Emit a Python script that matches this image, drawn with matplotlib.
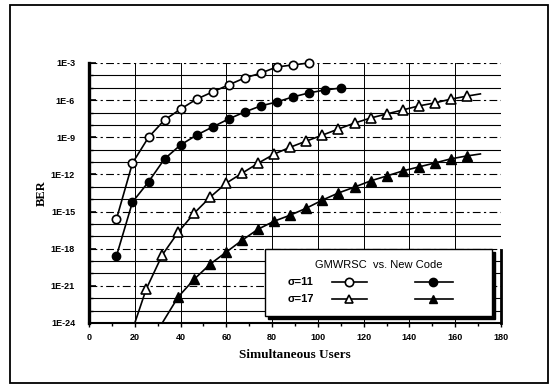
import numpy as np
import matplotlib
matplotlib.use("Agg")
import matplotlib.pyplot as plt
from matplotlib.patches import Rectangle

plt.rcParams['font.family'] = ['Liberation Sans', 'DejaVu Sans']

# --- data ---
users_gmw11 = [12, 19, 26, 33, 40, 47, 54, 61, 68, 75, 82, 89, 96]
ber_gmw11 = [2.5e-16, 8.3e-12, 1.0e-9, 2.5e-8, 1.9e-7, 1.2e-6, 4.6e-6,
             1.7e-5, 6.2e-5, 1.5e-4, 4.8e-4, 6.9e-4, 1.0e-3]

users_new11 = [12, 19, 26, 33, 40, 47, 54, 61, 68, 75, 82, 89, 96, 103, 110]
ber_new11 = [2.6e-19, 5.9e-15, 2.5e-13, 1.8e-11, 2.4e-10, 1.5e-9, 6.8e-9,
             3.0e-8, 1.1e-7, 3.4e-7, 7.1e-7, 1.8e-6, 3.8e-6, 6.6e-6, 9.5e-6]

users_gmw17 = [25, 32, 39, 46, 53, 60, 67, 74, 81, 88, 95, 102, 109, 116,
               123, 130, 137, 144, 151, 158, 165]
ber_gmw17 = [5.5e-22, 3.1e-19, 2.2e-17, 7.6e-16, 1.5e-14, 2.0e-13, 1.3e-12,
             8.3e-12, 4.5e-11, 1.6e-10, 5.0e-10, 1.5e-9, 4.7e-9, 1.4e-8,
             3.6e-8, 7.6e-8, 1.6e-7, 3.4e-7, 5.9e-7, 1.2e-6, 2.1e-6]

users_new17 = [39, 46, 53, 60, 67, 74, 81, 88, 95, 102, 109, 116, 123, 130,
               137, 144, 151, 158, 165]
ber_new17 = [1.3e-22, 3.5e-21, 5.8e-20, 5.4e-19, 5.0e-18, 3.9e-17, 1.7e-16,
             5.2e-16, 1.9e-15, 8.5e-15, 3.2e-14, 9.5e-14, 3.0e-13, 7.4e-13,
             1.9e-12, 4.0e-12, 8.3e-12, 1.8e-11, 3.1e-11]

# the c=17 fitted curves run past the first/last markers
tail_gmw17 = ([20, 171], [1.0e-24, 3.2e-6])
tail_new17 = ([32, 171], [1.0e-24, 4.5e-11])

ytick_vals = [1e-3, 1e-6, 1e-9, 1e-12, 1e-15, 1e-18, 1e-21, 1e-24]
ytick_labels = ['1E-3', '1E-6', '1E-9', '1E-12', '1E-15', '1E-18', '1E-21', '1E-24']
yminor_vals = [1e-4, 1e-5, 1e-7, 1e-8, 1e-10, 1e-11, 1e-13, 1e-14, 1e-16,
               1e-17, 1e-19, 1e-20, 1e-22, 1e-23]
xtick_vals = list(range(0, 181, 20))

legend_title = 'GMWRSC  vs. New Code'
row_labels = ['σ=11', 'σ=17']

fig = plt.figure(figsize=(5.55, 3.87), dpi=100)
ax = fig.add_axes([89 / 555, 1 - 323 / 387, 412 / 555, 260 / 387])

line_kw = dict(color='black', lw=1.2, clip_on=False, zorder=3)
ax.plot([tail_gmw17[0][0]] + users_gmw17 + [tail_gmw17[0][1]],
        [tail_gmw17[1][0]] + ber_gmw17 + [tail_gmw17[1][1]], **line_kw)
ax.plot([tail_new17[0][0]] + users_new17 + [tail_new17[0][1]],
        [tail_new17[1][0]] + ber_new17 + [tail_new17[1][1]], **line_kw)

ax.plot(users_gmw11, ber_gmw11, marker='o', ms=6, mfc='white', mec='black', mew=1.2, **line_kw)
ax.plot(users_new11, ber_new11, marker='o', ms=6, mfc='black', mec='black', **line_kw)
ax.plot(users_gmw17, ber_gmw17, ls='none', marker='^', ms=7, mfc='white', mec='black',
        mew=1.2, clip_on=False, zorder=3)
ax.plot(users_new17, ber_new17, ls='none', marker='^', ms=7, mfc='black', mec='black',
        clip_on=False, zorder=3)

ax.set_yscale('log')
ax.set_ylim(1e-24, 1e-3)
ax.set_xlim(0, 180)

ax.set_yticks(ytick_vals, ytick_labels)
ax.set_yticks(yminor_vals, minor=True)
ax.yaxis.set_minor_formatter(plt.NullFormatter())
ax.set_xticks(xtick_vals)
ax.set_xticks(range(10, 180, 20), minor=True)

for lab in ax.get_xticklabels() + ax.get_yticklabels():
    lab.set_fontsize(6.5)
    lab.set_fontweight('bold')

ax.tick_params(axis='y', which='both', direction='in', pad=10)
ax.tick_params(axis='y', which='major', length=5, width=1.2)
ax.tick_params(axis='y', which='minor', length=3, width=1)
ax.tick_params(axis='x', which='major', direction='out', length=3, width=1, pad=4)
ax.tick_params(axis='x', which='minor', direction='out', length=2, width=1)

ax.grid(which='major', axis='y', color='black', lw=0.8, ls=(0, (7, 3, 2, 3)))
ax.grid(which='minor', axis='y', color='black', lw=0.8, ls='-')
ax.grid(which='major', axis='x', color='black', lw=0.7, ls='-')
ax.get_xgridlines()[-1].set_visible(False)
ax.get_xgridlines()[0].set_visible(False)

ax.spines['top'].set_visible(False)
ax.spines['left'].set_linewidth(2.4)
ax.spines['bottom'].set_linewidth(1.5)
ax.spines['right'].set_linewidth(2.0)
ax.spines['right'].set_bounds(1e-24, 8e-19)

ax.set_xlabel('Simultaneous Users', family='Liberation Serif', fontweight='bold',
              fontsize=9.5, labelpad=5)
ax.set_ylabel('BER', family='Liberation Serif', fontweight='bold', fontsize=9, labelpad=2)

# legend box drawn by hand to match the old chart layout
bx, by, bw, bh = 0.427, 0.027, 0.551, 0.258
ax.add_patch(Rectangle((bx + 0.008, by - 0.013), bw, bh, transform=ax.transAxes,
                       fc='black', ec='black', zorder=5, clip_on=False))
ax.add_patch(Rectangle((bx, by), bw, bh, transform=ax.transAxes,
                       fc='white', ec='black', lw=1, zorder=6, clip_on=False))
ax.text(0.704, 0.222, legend_title, transform=ax.transAxes, ha='center', va='center',
        fontsize=8, zorder=7)
rows = [(0.158, 'o'), (0.092, '^')]
for (ry, mk), lab in zip(rows, row_labels):
    ax.text(0.481, ry, lab, transform=ax.transAxes, ha='left', va='center',
            fontsize=8, fontweight='bold', zorder=7)
    ax.plot([0.590, 0.675], [ry, ry], transform=ax.transAxes, color='black', lw=1.2,
            zorder=7, clip_on=False)
    ax.plot([0.631], [ry], transform=ax.transAxes, ls='none', marker=mk, ms=6,
            mfc='white', mec='black', mew=1.2, zorder=8, clip_on=False)
    ax.plot([0.791, 0.883], [ry, ry], transform=ax.transAxes, color='black', lw=1.2,
            zorder=7, clip_on=False)
    ax.plot([0.835], [ry], transform=ax.transAxes, ls='none', marker=mk, ms=6,
            mfc='black', mec='black', zorder=8, clip_on=False)

fig.add_artist(Rectangle((10 / 555, 1 - 383 / 387), 538 / 555, 378 / 387,
                         transform=fig.transFigure, fill=False, ec='black', lw=1.3))

fig.savefig('out.png', dpi=100)
